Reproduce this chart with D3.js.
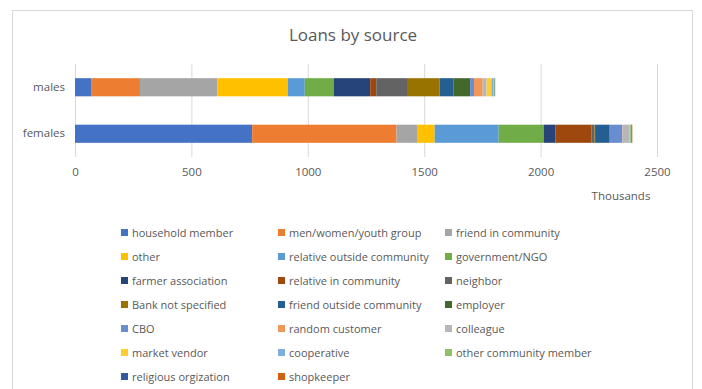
<!DOCTYPE html>
<html>
<head>
<meta charset="utf-8">
<script src="https://cdn.jsdelivr.net/npm/d3@7"></script>
<style>
  body { margin: 0; background: #fff; }
  text { font-family: "Open Sans", "Liberation Sans", sans-serif; fill: #595959; }
</style>
</head>
<body>
<div id="chart"></div>
<script>
const groups = ["males", "females"];

const sources = [
  "household member", "men/women/youth group", "friend in community",
  "other", "relative outside community", "government/NGO",
  "farmer association", "relative in community", "neighbor",
  "Bank not specified", "friend outside community", "employer",
  "CBO", "random customer", "colleague",
  "market vendor", "cooperative", "other community member",
  "religious orgization", "shopkeeper"
];

// values in thousands, same order as sources
const malesValues = [69, 210, 333, 302, 73, 124, 157, 26, 136, 136, 59, 72, 17, 37, 17, 21, 8, 6, 1, 1];
const femalesValues = [761, 620, 88, 76, 275, 193, 50, 155, 14, 2, 62, 2, 53, 1, 30, 1, 2, 3, 3, 3];

const colors = [
  "#4472C4", "#ED7D31", "#A5A5A5", "#FFC000", "#5B9BD5", "#70AD47",
  "#264478", "#9E480E", "#636363", "#997300", "#255E91", "#43682B",
  "#698ED0", "#F1975A", "#B7B7B7", "#FFCD33", "#7CAFDD", "#8CC168",
  "#335AA1", "#D26012"
];

const xTicks = [0, 500, 1000, 1500, 2000, 2500];

const width = 702, height = 389;
const svg = d3.select("#chart")
  .append("svg")
  .attr("width", width)
  .attr("height", height);

// chart border
svg.append("rect")
  .attr("x", 12.5).attr("y", 10.5)
  .attr("width", 680).attr("height", 390)
  .attr("fill", "none")
  .attr("stroke", "#d9d9d9");

svg.append("text")
  .attr("x", 353).attr("y", 41)
  .attr("text-anchor", "middle")
  .attr("font-size", 17)
  .text("Loans by source");

const x = d3.scaleLinear().domain([0, 2500]).range([75, 657]);
const y = d3.scaleBand().domain(groups).range([64, 157]).paddingInner(0.61).paddingOuter(0.305);

// gridlines
svg.append("g")
  .selectAll("line")
  .data(xTicks)
  .join("line")
    .attr("x1", d => x(d) + 0.5).attr("x2", d => x(d) + 0.5)
    .attr("y1", 64).attr("y2", 157)
    .attr("stroke", "#d9d9d9");

// stacked data
const rows = groups.map((g, gi) => {
  const vals = gi === 0 ? malesValues : femalesValues;
  const obj = { group: g };
  sources.forEach((s, i) => obj[s] = vals[i]);
  return obj;
});
const stack = d3.stack().keys(sources)(rows);

svg.append("g")
  .selectAll("g")
  .data(stack)
  .join("g")
    .attr("fill", (d, i) => colors[i])
  .selectAll("rect")
  .data(d => d)
  .join("rect")
    .attr("x", d => x(d[0]))
    .attr("width", d => x(d[1]) - x(d[0]))
    .attr("y", d => y(d.data.group))
    .attr("height", y.bandwidth());

// x axis labels
svg.append("g")
  .attr("transform", "translate(0,157)")
  .call(d3.axisBottom(x).tickValues(xTicks).tickFormat(d3.format("d")).tickSize(0).tickPadding(11))
  .call(g => g.select(".domain").remove())
  .selectAll("text")
    .attr("font-size", 11.5)
    .attr("fill", "#595959");

// category labels
svg.append("g")
  .attr("transform", "translate(75,0)")
  .call(d3.axisLeft(y).tickSize(0).tickPadding(10))
  .call(g => g.select(".domain").remove())
  .selectAll("text")
    .attr("font-size", 11.5)
    .attr("fill", "#595959");

svg.append("text")
  .attr("x", 621).attr("y", 200)
  .attr("text-anchor", "middle")
  .attr("font-size", 11.5)
  .text("Thousands");

// legend
const colX = [121, 278, 445];
const legend = svg.append("g")
  .selectAll("g")
  .data(sources)
  .join("g")
    .attr("transform", (d, i) => `translate(${colX[i % 3]},${233 + Math.floor(i / 3) * 24})`);

legend.append("rect")
  .attr("x", 0).attr("y", -4)
  .attr("width", 7).attr("height", 7)
  .attr("fill", (d, i) => colors[i]);

legend.append("text")
  .attr("x", 11).attr("y", 4)
  .attr("font-size", 11)
  .text(d => d);
</script>
</body>
</html>
